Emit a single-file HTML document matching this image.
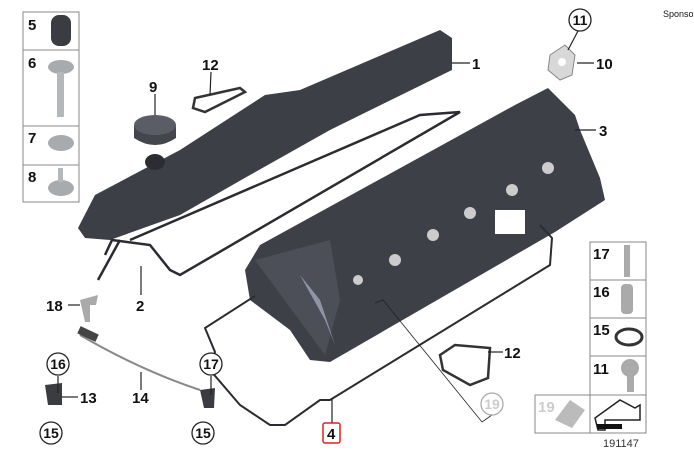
<!DOCTYPE html>
<html><head><meta charset="utf-8"><style>
html,body{margin:0;padding:0;background:#fff}
svg{display:block}
text{font-family:"Liberation Sans",sans-serif;font-weight:bold;fill:#111}
</style></head><body>
<svg width="694" height="452" viewBox="0 0 694 452" xmlns="http://www.w3.org/2000/svg">
<text x="663" y="17" style="font-weight:normal;font-size:9px">Sponsor</text>

<g fill="none" stroke="#888" stroke-width="1">
<rect x="23" y="12" width="56" height="190"/>
<line x1="23" y1="50" x2="79" y2="50"/><line x1="23" y1="126" x2="79" y2="126"/><line x1="23" y1="165" x2="79" y2="165"/>
</g>
<text x="28" y="30" font-size="15">5</text><text x="28" y="68" font-size="15">6</text>
<text x="28" y="143" font-size="15">7</text><text x="28" y="182" font-size="15">8</text>
<rect x="51" y="15" width="20" height="31" rx="8" fill="#3a3c42"/>
<ellipse cx="61" cy="67" rx="13" ry="7" fill="#a8abae"/><rect x="57" y="72" width="7" height="45" fill="#b5b8ba"/>
<ellipse cx="61" cy="143" rx="13" ry="8" fill="#a8abae"/><ellipse cx="61" cy="188" rx="13" ry="8" fill="#a8abae"/><rect x="58" y="168" width="5" height="14" fill="#b5b8ba"/>

<g fill="none" stroke="#888" stroke-width="1">
<rect x="590" y="242" width="56" height="191"/>
<rect x="535" y="395" width="55" height="38"/>
<line x1="590" y1="280" x2="646" y2="280"/><line x1="590" y1="318" x2="646" y2="318"/><line x1="590" y1="356" x2="646" y2="356"/><line x1="590" y1="395" x2="646" y2="395"/>
</g>
<text x="593" y="259" font-size="15">17</text><text x="593" y="297" font-size="15">16</text>
<text x="593" y="335" font-size="15">15</text><text x="593" y="374" font-size="15">11</text>
<text x="538" y="412" font-size="15" style="fill:#ccc">19</text>
<text x="603" y="447" font-size="11" style="font-weight:normal;fill:#333">191147</text>
<rect x="624" y="245" width="6" height="32" fill="#aaa"/><rect x="621" y="284" width="12" height="30" rx="4" fill="#aaa"/>
<ellipse cx="629" cy="337" rx="13" ry="8" fill="none" stroke="#333" stroke-width="3"/>
<circle cx="630" cy="368" r="9" fill="#aaa"/><rect x="627" y="373" width="7" height="19" fill="#aaa"/>
<path d="M555 420 L570 400 L585 410 L572 428 Z" fill="#bbb"/>
<path d="M595 418 L620 400 L635 408 L640 405 L640 420 L605 420 L605 430 L598 430 Z" fill="#fff" stroke="#222" stroke-width="1.5"/>
<rect x="597" y="424" width="25" height="5" fill="#111"/>

<!-- cover 1 -->
<path d="M78 228 L95 195 L180 150 L265 95 L300 90 L440 30 L452 38 L452 70 L330 130 L250 175 L180 215 L110 240 L85 238 Z" fill="#3d3f47"/>
<ellipse cx="155" cy="162" rx="10" ry="8" fill="#2b2d33"/>
<!-- gasket 2 -->
<path d="M105 255 L112 240 L150 245 L170 270 L180 275 L460 112 L420 115 L130 240" fill="none" stroke="#2b2c31" stroke-width="2.5"/>
<path d="M120 240 L98 280" stroke="#2b2c31" stroke-width="2.5"/>
<path d="M195 98 L240 88 L245 92 L205 112 L193 108 Z" fill="none" stroke="#333" stroke-width="2.5"/>
<!-- 9 cap -->
<path d="M134 125 L134 138 Q155 152 176 138 L176 125 Z" fill="#44464e"/>
<ellipse cx="155" cy="125" rx="21" ry="10" fill="#5a5d66"/>
<!-- cover 3 -->
<path d="M245 270 L260 245 L515 105 L548 88 L575 115 L580 130 L600 178 L605 200 L555 232 L330 362 L310 360 L290 330 L250 300 Z" fill="#3e4048"/>
<path d="M255 260 L330 240 L340 300 L325 355 Z" fill="#4c4f58"/>
<path d="M300 275 L320 300 L335 345 L325 320 Z" fill="#9094a6"/>
<circle cx="548" cy="168" r="6" fill="#ccc"/><circle cx="512" cy="190" r="6" fill="#ccc"/><circle cx="470" cy="213" r="6" fill="#ccc"/><circle cx="433" cy="235" r="6" fill="#ccc"/><circle cx="395" cy="260" r="6" fill="#ccc"/><circle cx="358" cy="280" r="5" fill="#ccc"/>
<rect x="495" y="210" width="30" height="24" fill="#fff"/>
<path d="M255 296 L205 328 L215 352 L210 370 L240 405 L270 425 L285 425 L320 400 L330 400 L550 265 L552 238 L540 225" fill="none" stroke="#2b2c31" stroke-width="2"/>
<path d="M440 355 L455 345 L490 348 L488 378 L470 385 L443 370 Z" fill="none" stroke="#333" stroke-width="2.5"/>
<path d="M550 55 L565 45 L575 55 L572 75 L560 80 L548 70 Z" fill="#d8d8d8" stroke="#888"/>
<circle cx="562" cy="62" r="4" fill="#fff"/>
<path d="M45 385 L62 383 L62 405 L48 405 Z" fill="#3a3c42"/>
<path d="M200 390 L215 388 L214 408 L204 408 Z" fill="#3a3c42"/>
<path d="M80 335 Q140 370 200 390" fill="none" stroke="#888" stroke-width="2"/>
<rect x="78" y="330" width="20" height="8" fill="#444" transform="rotate(25 88 334)"/>
<path d="M80 300 L98 295 L96 305 L90 305 L90 322 L85 322 Z" fill="#aaa"/>

<g stroke="#222" stroke-width="1.2" fill="none">
<line x1="452" y1="63" x2="470" y2="63"/><line x1="575" y1="130" x2="596" y2="130"/>
<line x1="577" y1="63" x2="594" y2="63"/><line x1="578" y1="31" x2="568" y2="50"/>
<line x1="155" y1="94" x2="155" y2="115"/><line x1="211" y1="72" x2="210" y2="95"/>
<line x1="141" y1="266" x2="141" y2="295"/><line x1="68" y1="305" x2="80" y2="305"/>
<line x1="58" y1="376" x2="58" y2="393"/><line x1="62" y1="397" x2="78" y2="397"/>
<line x1="141" y1="372" x2="141" y2="390"/><line x1="211" y1="376" x2="211" y2="395"/>
<line x1="332" y1="398" x2="332" y2="423"/><line x1="488" y1="352" x2="503" y2="352"/>
<path d="M375 303 L383 300 L482 422 L492 415" stroke-width="0.8"/>
</g>
<text x="472" y="69" font-size="15">1</text><text x="599" y="136" font-size="15">3</text>
<text x="596" y="69" font-size="15">10</text><text x="149" y="92" font-size="15">9</text>
<text x="202" y="70" font-size="15">12</text><text x="136" y="311" font-size="15">2</text>
<text x="46" y="311" font-size="15">18</text><text x="80" y="403" font-size="15">13</text>
<text x="132" y="403" font-size="15">14</text><text x="504" y="358" font-size="15">12</text>
<rect x="323" y="423" width="17" height="20" rx="2" fill="none" stroke="#d22" stroke-width="1.5"/>
<text x="327" y="439" font-size="15">4</text>
<g fill="#fff" stroke="#222" stroke-width="1.3">
<circle cx="580" cy="20" r="11"/><circle cx="58" cy="364" r="11"/><circle cx="51" cy="433" r="11"/>
<circle cx="211" cy="364" r="11"/><circle cx="203" cy="433" r="11"/>
<circle cx="492" cy="404" r="11" stroke="#aaa"/>
</g>
<g font-size="14" text-anchor="middle">
<text x="580" y="25">11</text><text x="58" y="369">16</text><text x="51" y="438">15</text>
<text x="211" y="369">17</text><text x="203" y="438">15</text><text x="492" y="409" style="fill:#ccc">19</text>
</g>
</svg>
</body></html>
